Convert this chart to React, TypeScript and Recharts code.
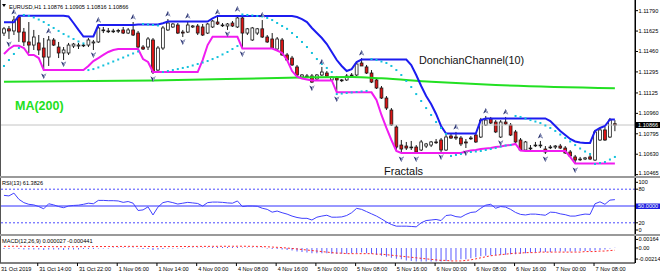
import React from "react";
import { Bar, ComposedChart, Line, Scatter, XAxis, YAxis, ReferenceLine } from "recharts";

const FONT = '"Liberation Sans", Arial, sans-serif';
const SMALL = 5.6;
const PLOT_RIGHT = 635;
const X_DOMAIN: [number, number] = [-0.8, 127.05];

// EURUSD H1 candles, 31 Oct 07:00 .. 7 Nov 10:00
const opens = [
  1.11609, 1.11643, 1.11626, 1.11739, 1.11617, 1.11537, 1.11512, 1.11529, 1.11488, 1.11415,
  1.11553, 1.11496, 1.11448, 1.11448, 1.11504, 1.11504, 1.11512, 1.11512, 1.11529, 1.11537,
  1.11634, 1.11626, 1.11626, 1.11626, 1.11634, 1.11609, 1.11634, 1.11609, 1.11496, 1.11496,
  1.11553, 1.1131, 1.11488, 1.11634, 1.11658, 1.11674, 1.11617, 1.11617, 1.11658, 1.11666,
  1.11658, 1.11609, 1.11658, 1.11698, 1.11674, 1.11666, 1.1169, 1.11658, 1.11731, 1.11609,
  1.11553, 1.11609, 1.11643, 1.11577, 1.11561, 1.1148, 1.11553, 1.11432, 1.11407, 1.11335,
  1.11254, 1.11262, 1.11262, 1.11238, 1.1127, 1.11286, 1.1123, 1.11246, 1.1123, 1.1123,
  1.1127, 1.1127, 1.11367, 1.11335, 1.11286, 1.1123, 1.11165, 1.11084, 1.10987, 1.1085,
  1.10704, 1.10696, 1.10688, 1.10688, 1.10664, 1.10696, 1.10704, 1.10729, 1.10745, 1.10664,
  1.10777, 1.10769, 1.10761, 1.10729, 1.10761, 1.10785, 1.10769, 1.10866, 1.10915, 1.1089,
  1.10769, 1.1089, 1.10866, 1.1081, 1.10745, 1.10664, 1.1068, 1.10704, 1.10704, 1.10672,
  1.10688, 1.10688, 1.10696, 1.1068, 1.10648, 1.10608, 1.10591, 1.10591, 1.10608, 1.10583,
  1.10745, 1.10826, 1.10769, 1.10876,
];
const highs = [
  1.11658, 1.11666, 1.11747, 1.11755, 1.1165, 1.11698, 1.11634, 1.11593, 1.11569, 1.11585,
  1.11569, 1.11537, 1.11496, 1.11529, 1.11529, 1.11529, 1.11529, 1.11569, 1.11553, 1.11674,
  1.11658, 1.1165, 1.11643, 1.11643, 1.11658, 1.1165, 1.11698, 1.11626, 1.11512, 1.11577,
  1.11569, 1.11504, 1.11666, 1.11722, 1.1169, 1.1169, 1.11634, 1.11706, 1.11674, 1.11682,
  1.11682, 1.1169, 1.11714, 1.11739, 1.1169, 1.1169, 1.11706, 1.11755, 1.11739, 1.1165,
  1.11658, 1.1165, 1.11714, 1.11593, 1.11609, 1.11577, 1.11569, 1.11448, 1.11424, 1.11351,
  1.11278, 1.11278, 1.11278, 1.11278, 1.11335, 1.11302, 1.11262, 1.11262, 1.11238, 1.11278,
  1.11286, 1.11375, 1.11407, 1.11351, 1.1131, 1.11246, 1.11181, 1.111, 1.11003, 1.10866,
  1.10745, 1.10729, 1.10737, 1.10704, 1.10745, 1.10721, 1.10737, 1.10753, 1.10761, 1.10785,
  1.10801, 1.1081, 1.10777, 1.10753, 1.10777, 1.10801, 1.10923, 1.10939, 1.10931, 1.10906,
  1.10906, 1.10931, 1.10882, 1.10826, 1.10761, 1.10737, 1.10704, 1.10729, 1.10737, 1.10696,
  1.10704, 1.10704, 1.10713, 1.10696, 1.10664, 1.10624, 1.10608, 1.10608, 1.10624, 1.10826,
  1.10842, 1.1085, 1.10923, 1.10905,
];
const lows = [
  1.11585, 1.11561, 1.11593, 1.11537, 1.11504, 1.11448, 1.11472, 1.11432, 1.1131, 1.11343,
  1.11504, 1.11407, 1.11391, 1.11432, 1.11488, 1.1148, 1.11496, 1.11496, 1.11472, 1.11529,
  1.11609, 1.11609, 1.11609, 1.11609, 1.11601, 1.11601, 1.11585, 1.11488, 1.11472, 1.11472,
  1.11278, 1.11302, 1.11472, 1.11626, 1.1165, 1.11601, 1.11577, 1.11609, 1.1165, 1.11593,
  1.11585, 1.11601, 1.1165, 1.11674, 1.11658, 1.11634, 1.11658, 1.1165, 1.11488, 1.11593,
  1.11545, 1.11593, 1.11569, 1.11529, 1.1148, 1.11472, 1.11424, 1.11383, 1.11343, 1.11262,
  1.11246, 1.11246, 1.11205, 1.1123, 1.11262, 1.11254, 1.11222, 1.11125, 1.11213, 1.11222,
  1.11262, 1.11262, 1.11343, 1.11278, 1.11205, 1.11157, 1.11076, 1.10987, 1.10858, 1.10664,
  1.1064, 1.10664, 1.10664, 1.1064, 1.10656, 1.1068, 1.10688, 1.10713, 1.10648, 1.10656,
  1.10753, 1.10745, 1.10696, 1.1068, 1.10745, 1.10721, 1.10761, 1.10858, 1.10874, 1.10801,
  1.10761, 1.10866, 1.10777, 1.10721, 1.10656, 1.10656, 1.10656, 1.10688, 1.1068, 1.10632,
  1.10672, 1.10672, 1.10672, 1.10632, 1.10608, 1.10551, 1.10575, 1.10583, 1.10583, 1.10575,
  1.10737, 1.10737, 1.10761, 1.10816,
];
const closes = [
  1.11643, 1.11626, 1.11714, 1.11617, 1.11537, 1.11512, 1.11577, 1.11472, 1.11415, 1.11553,
  1.11512, 1.11448, 1.11472, 1.11512, 1.1152, 1.11512, 1.11508, 1.11553, 1.11537, 1.1165,
  1.1163, 1.11622, 1.11626, 1.1163, 1.11609, 1.11634, 1.11593, 1.11496, 1.1148, 1.11561,
  1.11294, 1.11488, 1.1165, 1.1169, 1.11682, 1.11609, 1.11609, 1.11674, 1.11666, 1.11609,
  1.11593, 1.11682, 1.11706, 1.11682, 1.1167, 1.11682, 1.11666, 1.11731, 1.11609, 1.11643,
  1.1165, 1.11643, 1.11577, 1.11537, 1.11488, 1.11561, 1.11432, 1.11391, 1.11351, 1.1127,
  1.1127, 1.11258, 1.11213, 1.1127, 1.11294, 1.11262, 1.11254, 1.1123, 1.11226, 1.11262,
  1.11266, 1.11359, 1.11343, 1.11286, 1.11213, 1.11165, 1.11084, 1.11003, 1.10866, 1.10688,
  1.10672, 1.1068, 1.10684, 1.10648, 1.10729, 1.10713, 1.10729, 1.10725, 1.10664, 1.10769,
  1.10761, 1.10761, 1.10713, 1.10721, 1.10757, 1.10729, 1.10906, 1.10906, 1.10882, 1.1081,
  1.1089, 1.10874, 1.10785, 1.10729, 1.10664, 1.10729, 1.10676, 1.107, 1.107, 1.10648,
  1.10684, 1.10696, 1.1068, 1.1064, 1.10616, 1.10583, 1.10587, 1.106, 1.10591, 1.1081,
  1.10826, 1.10745, 1.10906, 1.10866,
];

// DonchianChannel(10)
const upperBand = [
  1.11696, 1.11696, 1.11696, 1.11749, 1.11749, 1.11749, 1.11749, 1.11749, 1.11749, 1.11749,
  1.11749, 1.11749, 1.11749, 1.11743, 1.1169, 1.11634, 1.11581, 1.11581, 1.11581, 1.11674,
  1.11674, 1.11674, 1.11674, 1.11674, 1.11674, 1.11674, 1.11674, 1.11678, 1.11678, 1.11678,
  1.11678, 1.11678, 1.11688, 1.11702, 1.11702, 1.11702, 1.11702, 1.11702, 1.11702, 1.11702,
  1.11702, 1.11702, 1.11728, 1.11747, 1.11747, 1.11747, 1.11747, 1.11747, 1.11747, 1.11747,
  1.11747, 1.11747, 1.11747, 1.11747, 1.11747, 1.11747, 1.11747, 1.11747, 1.11747, 1.11739,
  1.11722, 1.11698, 1.1165, 1.11609, 1.11569, 1.1152, 1.11456, 1.11391, 1.11343, 1.11302,
  1.11318, 1.11375, 1.11395, 1.11395, 1.11395, 1.11395, 1.11395, 1.11395, 1.11395, 1.11395,
  1.11395, 1.11395, 1.11351, 1.1127, 1.11181, 1.111, 1.11036, 1.10955, 1.10858, 1.10797,
  1.10797, 1.10797, 1.10797, 1.10797, 1.10797, 1.10797, 1.10906, 1.10919, 1.10919, 1.10919,
  1.10919, 1.10919, 1.10919, 1.10919, 1.10919, 1.10919, 1.10919, 1.10919, 1.10919, 1.10919,
  1.10898, 1.10858, 1.10818, 1.10785, 1.10753, 1.10733, 1.10725, 1.10721, 1.10721, 1.10818,
  1.10842, 1.10858, 1.10911, 1.10911,
];
const lowerBand = [
  1.1144, 1.1148, 1.11507, 1.11507, 1.11488, 1.11432, 1.11432, 1.11407, 1.1131, 1.1131,
  1.1131, 1.1131, 1.1131, 1.1131, 1.1131, 1.1131, 1.1131, 1.11343, 1.11383, 1.11407,
  1.11432, 1.11456, 1.11472, 1.1148, 1.1148, 1.1148, 1.1148, 1.1148, 1.11399, 1.11375,
  1.11294, 1.11294, 1.11294, 1.11294, 1.11294, 1.11294, 1.11294, 1.11294, 1.11294, 1.11294,
  1.11391, 1.11512, 1.11579, 1.11579, 1.11579, 1.11579, 1.11579, 1.11579, 1.11484, 1.11484,
  1.11484, 1.11484, 1.11484, 1.11484, 1.11484, 1.11468, 1.11448, 1.11391, 1.11302, 1.11256,
  1.11242, 1.11234, 1.11226, 1.11226, 1.11226, 1.11226, 1.11226, 1.1113, 1.1113, 1.1113,
  1.1113, 1.1113, 1.1113, 1.1113, 1.1113, 1.11068, 1.10947, 1.10842, 1.10745, 1.10656,
  1.1064, 1.1064, 1.1064, 1.1064, 1.1064, 1.1064, 1.1064, 1.1064, 1.1064, 1.1064,
  1.1064, 1.1064, 1.1064, 1.10652, 1.1066, 1.10664, 1.10672, 1.10676, 1.1068, 1.10688,
  1.10692, 1.107, 1.10704, 1.10713, 1.1066, 1.10656, 1.10656, 1.10656, 1.10656, 1.10656,
  1.10656, 1.10656, 1.10656, 1.10656, 1.10608, 1.10555, 1.10555, 1.10555, 1.10555, 1.10555,
  1.10555, 1.10555, 1.10555, 1.10555,
];

// Parabolic SAR dots
const sarValues = [
  1.11343, 1.11391, 1.1144, 1.11488, 1.11755, 1.11747, 1.11735, 1.11718, 1.11698, 1.11674,
  1.1165, 1.11626, 1.11601, 1.11581, 1.11561, 1.11541, 1.11525, 1.1131, 1.11318, 1.11331,
  1.11347, 1.11363, 1.11379, 1.11395, 1.11411, 1.11428, 1.11444, 1.1146, 1.11682, 1.11678,
  1.11674, 1.1167, 1.11294, 1.11302, 1.1131, 1.11318, 1.11327, 1.11335, 1.11347, 1.11359,
  1.11371, 1.11383, 1.11399, 1.11415, 1.11436, 1.11456, 1.1148, 1.11504, 1.11759, 1.11755,
  1.11751, 1.11747, 1.11743, 1.11731, 1.11714, 1.1169, 1.11666, 1.11643, 1.11609, 1.11577,
  1.11537, 1.11496, 1.11448, 1.11399, 1.11359, 1.11327, 1.11294, 1.11116, 1.1112, 1.11125,
  1.11129, 1.11133, 1.11137, 1.11141, 1.11399, 1.11391, 1.11379, 1.11367, 1.11343, 1.1131,
  1.1127, 1.11222, 1.11173, 1.11116, 1.1106, 1.11003, 1.10947, 1.1089, 1.10842, 1.10793,
  1.10616, 1.10624, 1.10632, 1.1064, 1.10648, 1.10652, 1.10656, 1.10664, 1.10672, 1.1068,
  1.10692, 1.107, 1.10704, 1.10939, 1.10931, 1.10919, 1.10906, 1.10894, 1.10882, 1.10862,
  1.10842, 1.10818, 1.10789, 1.10761, 1.10733, 1.10704, 1.10676, 1.10652, 1.10632, 1.10551,
  1.10559, 1.10567, 1.10587, 1.10608,
];

// MA(200), read at a few bars
const maBars = [0, 30, 62, 70, 76, 86, 99, 123];
const maValues = [1.11216, 1.11226, 1.11251, 1.11254, 1.11243, 1.11216, 1.11189, 1.11163];

// Fractals
const upFractalBars = [2, 9, 19, 26, 33, 37, 43, 47, 52, 64, 72, 91, 97, 101, 108];
const upFractalPrices = [
  1.11779, 1.11626, 1.11714, 1.11739, 1.11763, 1.11747, 1.11779, 1.11803, 1.11755, 1.11375,
  1.11448, 1.1085, 1.10979, 1.10971, 1.10777,
];
const downFractalBars = [1, 8, 12, 18, 30, 36, 45, 48, 62, 67, 80, 83, 88, 93, 100, 109, 115];
const downFractalPrices = [
  1.1152, 1.11262, 1.11359, 1.11432, 1.11238, 1.11537, 1.11601, 1.1144, 1.11165, 1.11076,
  1.10591, 1.10591, 1.10608, 1.1064, 1.10721, 1.10591, 1.10502,
];

// RSI(13)
const rsiValues = [
  69, 68, 73, 62, 56, 53, 52, 49, 45, 54, 52, 49, 47, 50, 51, 51.5, 53, 55, 54, 60,
  60, 59.5, 59.5, 59, 56.5, 58, 55, 42, 43, 48.5, 34, 48, 56, 58, 56, 53.5, 55, 56.5, 55.5, 54.5,
  50, 56, 57, 57, 56.5, 55.5, 55, 59, 49, 50, 50, 49.5, 46, 44, 39, 41, 38, 35.5, 32, 29.5,
  28, 28, 25, 30, 32, 33.5, 30, 30, 30.5, 33, 38, 45.8, 44, 40, 36, 32, 27, 21.5, 17, 14,
  14, 14, 13.5, 12.8, 20, 24, 25, 26, 24, 33, 34, 31, 30, 35, 38.5, 39.5, 46, 51.5, 53, 46,
  49, 48, 44, 38.5, 35, 34, 35.5, 35.5, 34.5, 33.5, 39, 38.5, 36, 34.5, 32, 32, 34, 35.6, 35, 54,
  57.5, 53, 60.5, 61.3826,
];

// MACD(12,26,9): main histogram and signal line
const macdMain = [
  -0.0002, -0.0002, -0.0001, -0.0002, -0.0003, -0.0003, -0.0003, -0.0003, -0.0004, -0.0003,
  -0.0003, -0.0003, -0.0004, -0.0003, -0.0003, -0.0003, -0.0002, -0.0002, -0.0002, -0.0001,
  -0.0001, -0.0001, 0.0001, 0.0001, 0.0001, 0.0001, 0.0001, -0.0001, -0.0002, -0.0002,
  -0.0004, -0.0003, -0.0002, -0.0001, -0.0001, -0.0001, -0.0001, 0.0001, 0.0001, 0.0001,
  0.0001, 0.0001, 0.0002, 0.0002, 0.0002, 0.0002, 0.0002, 0.0002, 0.0001, 0.0001,
  0.0001, 0.0001, 0.0001, -0.0001, -0.0002, -0.0002, -0.0003, -0.0004, -0.0005, -0.0007,
  -0.0008, -0.0009, -0.001, -0.001, -0.001, -0.001, -0.0011, -0.0011, -0.0011, -0.0011,
  -0.001, -0.001, -0.0009, -0.001, -0.0011, -0.0013, -0.0015, -0.0017, -0.0019, -0.0021,
  -0.0022, -0.0024, -0.0025, -0.0026, -0.0026, -0.0026, -0.0026, -0.0026, -0.0026, -0.0025,
  -0.0024, -0.0023, -0.0022, -0.0022, -0.002, -0.0018, -0.0016, -0.0015, -0.0014, -0.0014,
  -0.0013, -0.0013, -0.0012, -0.0012, -0.0011, -0.001, -0.0009, -0.0009, -0.0008, -0.0008,
  -0.0008, -0.0007, -0.0007, -0.0007, -0.0007, -0.0007, -0.0006, -0.0006, -0.0006, -0.0005,
  -0.0004, -0.0003, -0.0001, 0.000027,
];
const macdSignal = [
  0.0003, 0.00031, 0.00032, 0.00032, 0.00031, 0.0003, 0.00029, 0.00028, 0.00027, 0.00026,
  0.00025, 0.00025, 0.00024, 0.00024, 0.00024, 0.00025, 0.00025, 0.00026, 0.00026, 0.00027,
  0.00027, 0.00028, 0.00028, 0.00029, 0.00029, 0.0003, 0.0003, 0.0003, 0.00029, 0.00028,
  0.00027, 0.00026, 0.00026, 0.00026, 0.00027, 0.00027, 0.00028, 0.00028, 0.00029, 0.00029,
  0.0003, 0.0003, 0.00031, 0.00031, 0.00032, 0.00032, 0.00032, 0.00033, 0.00033, 0.00032,
  0.00031, 0.00029, 0.00026, 0.00022, 0.00017, 0.00012, 0.00005, -0.00002, -0.0001, -0.0002,
  -0.0003, -0.0004, -0.0005, -0.0006, -0.0007, -0.0008, -0.0009, -0.001, -0.001, -0.0011,
  -0.0011, -0.0011, -0.0011, -0.0011, -0.0011, -0.0012, -0.0012, -0.0013, -0.0014, -0.0015,
  -0.0016, -0.0017, -0.0018, -0.0019, -0.002, -0.0021, -0.0022, -0.0023, -0.0024, -0.0024,
  -0.0025, -0.0025, -0.0025, -0.0024, -0.0023, -0.0021, -0.0019, -0.0017, -0.0015, -0.0014,
  -0.0013, -0.0012, -0.0011, -0.001, -0.001, -0.0009, -0.0009, -0.0009, -0.0008, -0.0008,
  -0.0008, -0.0008, -0.0008, -0.0008, -0.0008, -0.0008, -0.0008, -0.0007, -0.0007, -0.0007,
  -0.0006, -0.0006, -0.0005, -0.000441,
];

// axis ticks
const priceTicks = [1.10465, 1.1063, 1.10795, 1.10866, 1.1096, 1.11125, 1.11295, 1.1146, 1.11625, 1.1179];
const rsiTicks = [0, 20, 50, 80, 100];
const macdTicks = [-0.00214, 0, 0.00164];
const macdTickLabels = ["-0.00214", "0.00", "0.00164"];
const timeTickBars = [-0.8, 7, 15, 23, 31, 39, 47, 55, 63, 71, 79, 87, 95, 103, 111, 119];
const timeLabels = [
  "31 Oct 2019", "31 Oct 14:00", "31 Oct 22:00", "1 Nov 06:00", "1 Nov 14:00", "4 Nov 00:00",
  "4 Nov 08:00", "4 Nov 16:00", "5 Nov 00:00", "5 Nov 08:00", "5 Nov 16:00", "6 Nov 00:00",
  "6 Nov 08:00", "6 Nov 16:00", "7 Nov 00:00", "7 Nov 08:00",
];

const last = closes.length - 1;
const lastClose = closes[last];

const rows = opens.map((open, i) => ({
  bar: i,
  open,
  high: highs[i],
  low: lows[i],
  close: closes[i],
  range: [lows[i], highs[i]],
  upper: upperBand[i],
  lower: lowerBand[i],
  sar: sarValues[i],
  rsi: rsiValues[i],
  macd: macdMain[i],
  signal: macdSignal[i],
}));
const maPoints = maBars.map((bar, i) => ({ bar, ma: maValues[i] }));
const upFractals = upFractalBars.map((bar, i) => ({ bar, price: upFractalPrices[i] }));
const downFractals = downFractalBars.map((bar, i) => ({ bar, price: downFractalPrices[i] }));

function Candle(props: any) {
  const { x, y, width, height, payload } = props;
  if (x == null || !payload) return null;
  const cx = x + width / 2;
  const top = Math.min(y, y + height);
  const span = Math.abs(height);
  const rng = payload.high - payload.low || 1;
  const yOf = (p: number) => top + ((payload.high - p) / rng) * span;
  const oY = yOf(payload.open);
  const cY = yOf(payload.close);
  const bull = payload.close >= payload.open;
  const bTop = Math.min(oY, cY);
  const bH = Math.max(Math.abs(cY - oY), 0.8);
  return (
    <g>
      <line x1={cx} x2={cx} y1={top} y2={top + span} stroke="#1a1a1a" strokeWidth={1} />
      <rect x={cx - 1.4} y={bTop} width={2.8} height={bH} fill={bull ? "#ffffff" : "#dd1414"} stroke="#1a1a1a" strokeWidth={0.8} />
    </g>
  );
}

const SarDot = (p: any) => <rect x={p.cx - 1} y={p.cy - 1} width={2} height={2} fill="#14c2dc" />;

const FractalUp = (p: any) => (
  <g>
    <polygon points={`${p.cx},${p.cy - 3} ${p.cx + 2.6},${p.cy + 2.6} ${p.cx},${p.cy + 1} ${p.cx - 2.6},${p.cy + 2.6}`} fill="#27306e" />
    <polygon points={`${p.cx},${p.cy - 3} ${p.cx + 2.6},${p.cy + 2.6} ${p.cx},${p.cy + 1}`} fill="#a4abcc" />
  </g>
);
const FractalDown = (p: any) => (
  <g>
    <polygon points={`${p.cx},${p.cy + 3} ${p.cx + 2.6},${p.cy - 2.6} ${p.cx},${p.cy - 1} ${p.cx - 2.6},${p.cy - 2.6}`} fill="#27306e" />
    <polygon points={`${p.cx},${p.cy + 3} ${p.cx + 2.6},${p.cy - 2.6} ${p.cx},${p.cy - 1}`} fill="#a4abcc" />
  </g>
);

function PriceTick(props: any) {
  const { y, payload } = props;
  const v = payload.value;
  if (v === lastClose) {
    return (
      <g>
        <rect x={PLOT_RIGHT + 1} y={y - 3} width={25} height={6} fill="#000" />
        <text x={PLOT_RIGHT + 3} y={y} dy="0.35em" fontSize={SMALL} fontFamily={FONT} fill="#fff">
          {v.toFixed(5)}
        </text>
      </g>
    );
  }
  const ty = Math.min(y, 173);
  return (
    <g>
      <line x1={PLOT_RIGHT} x2={PLOT_RIGHT + 3} y1={y} y2={y} stroke="#000" />
      <text x={PLOT_RIGHT + 3.5} y={ty} dy="0.35em" fontSize={SMALL} fontFamily={FONT} fill="#000">
        {v.toFixed(5)}
      </text>
    </g>
  );
}

function RsiTick(props: any) {
  const { y, payload } = props;
  const v = payload.value;
  const shift = v === 100 ? 4.3 : v === 0 ? -4 : 0;
  if (v === 50) {
    return (
      <g>
        <rect x={PLOT_RIGHT + 1} y={y - 2.5} width={25} height={5.5} fill="#1c1ce0" />
        <text x={PLOT_RIGHT + 3} y={y} dy="0.35em" fontSize={SMALL} fontFamily={FONT} fill="#fff">
          50.0000
        </text>
      </g>
    );
  }
  return (
    <g>
      <line x1={PLOT_RIGHT} x2={PLOT_RIGHT + 3} y1={y + shift} y2={y + shift} stroke="#000" />
      <text x={PLOT_RIGHT + 3.5} y={y + shift} dy="0.35em" fontSize={SMALL} fontFamily={FONT} fill="#000">
        {String(v)}
      </text>
    </g>
  );
}

function MacdTick(props: any) {
  const { y, payload } = props;
  const label = macdTickLabels[macdTicks.indexOf(payload.value)];
  return (
    <g>
      <line x1={PLOT_RIGHT} x2={PLOT_RIGHT + 3} y1={y} y2={y} stroke="#000" />
      <text x={PLOT_RIGHT + 3.5} y={y} dy="0.35em" fontSize={SMALL} fontFamily={FONT} fill="#000">
        {label}
      </text>
    </g>
  );
}

function TimeTick(props: any) {
  const { x, payload } = props;
  const idx = timeTickBars.indexOf(payload.value);
  const first = idx === 0;
  return (
    <g>
      {!first && <line x1={x - 1} x2={x - 1} y1={27} y2={30} stroke="#000" />}
      <text x={first ? x + 1 : x + 0.5} y={34.5} fontSize={SMALL} fontFamily={FONT} fill="#000">
        {timeLabels[idx]}
      </text>
    </g>
  );
}

const noMargin = { top: 0, right: 0, bottom: 0, left: 0 };

export default function App() {
  const title = `EURUSD,H1  ${opens[last].toFixed(5)} ${highs[last].toFixed(5)} ${lows[last].toFixed(5)} ${closes[last].toFixed(5)}`;
  return (
    <div style={{ position: "relative", width: 660, height: 276, background: "#fff", overflow: "hidden" }}>
      <style>{`body{margin:0}`}</style>

      <div style={{ position: "absolute", left: 0, top: 0 }}>
        <ComposedChart width={660} height={176} data={rows} margin={noMargin}>
          <XAxis type="number" dataKey="bar" domain={X_DOMAIN} allowDataOverflow hide />
          <YAxis
            orientation="right"
            width={25}
            domain={[1.10454, 1.11876]}
            allowDataOverflow
            ticks={priceTicks}
            interval={0}
            tick={PriceTick}
            tickLine={false}
            axisLine={{ stroke: "#000" }}
          />
          <ReferenceLine y={lastClose} stroke="#c4c4c4" />
          <Line data={maPoints} dataKey="ma" type="monotone" stroke="#22e022" strokeWidth={2} dot={false} activeDot={false} isAnimationActive={false} />
          <Line dataKey="upper" type="linear" stroke="#1c1cf0" strokeWidth={2} dot={false} activeDot={false} isAnimationActive={false} />
          <Line dataKey="lower" type="linear" stroke="#f01cf0" strokeWidth={2} dot={false} activeDot={false} isAnimationActive={false} />
          <Bar dataKey="range" barSize={3} shape={Candle} isAnimationActive={false} />
          <Scatter dataKey="sar" shape={SarDot} isAnimationActive={false} />
          <Scatter data={upFractals} dataKey="price" shape={FractalUp} isAnimationActive={false} />
          <Scatter data={downFractals} dataKey="price" shape={FractalDown} isAnimationActive={false} />
        </ComposedChart>
      </div>

      <div style={{ position: "absolute", left: 0, top: 178 }}>
        <ComposedChart width={660} height={56} data={rows} margin={noMargin}>
          <XAxis type="number" dataKey="bar" domain={X_DOMAIN} allowDataOverflow hide />
          <YAxis
            orientation="right"
            width={25}
            domain={[0, 100]}
            allowDataOverflow
            ticks={rsiTicks}
            interval={0}
            tick={RsiTick}
            tickLine={false}
            axisLine={{ stroke: "#000" }}
          />
          <ReferenceLine y={80} stroke="#4a4aff" strokeDasharray="2 2" />
          <ReferenceLine y={20} stroke="#4a4aff" strokeDasharray="2 2" />
          <ReferenceLine y={50} stroke="#3030ff" />
          <Line dataKey="rsi" type="linear" stroke="#4040ff" strokeWidth={1} dot={false} activeDot={false} isAnimationActive={false} />
        </ComposedChart>
      </div>

      <div style={{ position: "absolute", left: 0, top: 236 }}>
        <ComposedChart width={660} height={40} data={rows} margin={noMargin}>
          <XAxis
            type="number"
            dataKey="bar"
            domain={X_DOMAIN}
            allowDataOverflow
            ticks={timeTickBars}
            interval={0}
            height={13}
            tick={TimeTick}
            tickLine={false}
            axisLine={{ stroke: "#000" }}
          />
          <YAxis
            orientation="right"
            width={25}
            domain={[-0.0029, 0.0023]}
            allowDataOverflow
            ticks={macdTicks}
            interval={0}
            tick={MacdTick}
            tickLine={false}
            axisLine={{ stroke: "#000" }}
          />
          <Bar dataKey="macd" barSize={1} fill="#5a5aff" isAnimationActive={false} />
          <Line dataKey="signal" type="linear" stroke="#ff2a2a" strokeWidth={1} strokeDasharray="2 2" dot={false} activeDot={false} isAnimationActive={false} />
        </ComposedChart>
      </div>

      <svg width={660} height={276} style={{ position: "absolute", left: 0, top: 0, pointerEvents: "none" }}>
        <line x1={0.5} x2={0.5} y1={0} y2={263} stroke="#555" />
        <line x1={PLOT_RIGHT + 0.5} x2={PLOT_RIGHT + 0.5} y1={0} y2={263} stroke="#000" />
        <rect x={0} y={176} width={660} height={2} fill="#9a9a9a" />
        <rect x={0} y={234} width={660} height={2} fill="#9a9a9a" />
        <polygon points="2,4 6,4 4,7" fill="#000" />
        <text x={9} y={8.5} fontSize={SMALL} fontFamily={FONT} fill="#000">{title}</text>
        <text x={15} y={109.5} fontSize={12.5} fontWeight="bold" fontFamily={FONT} fill="#22e022">MA(200)</text>
        <text x={419} y={64} fontSize={10.8} fontFamily={FONT} fill="#111">DonchianChannel(10)</text>
        <text x={384} y={174.5} fontSize={11} fontFamily={FONT} fill="#111">Fractals</text>
        <text x={2} y={185} fontSize={SMALL} fontFamily={FONT} fill="#000">{`RSI(13) ${rsiValues[last].toFixed(4)}`}</text>
        <text x={2} y={243} fontSize={SMALL} fontFamily={FONT} fill="#000">
          {`MACD(12,26,9) ${macdMain[last].toFixed(6)} ${macdSignal[last].toFixed(6)}`}
        </text>
      </svg>
    </div>
  );
}
